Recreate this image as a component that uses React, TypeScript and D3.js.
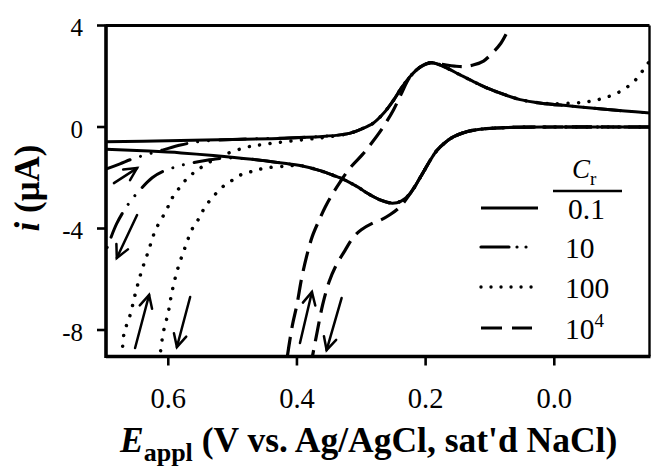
import React from 'react';
import * as d3 from 'd3';

type P = [number, number];

// Axis ticks
const xTicks: number[] = [0.6, 0.4, 0.2, 0.0];
const xTickLabels: string[] = ['0.6', '0.4', '0.2', '0.0'];
const yTicks: number[] = [4, 0, -4, -8];
const yTickLabels: string[] = ['4', '0', '-4', '-8'];

// Legend (C_r values)
const crLabels: string[] = ['0.1', '10', '100', '10'];
const crSuperscripts: string[] = ['', '', '', '4'];

// C_r = 0.1 (solid): upper branch (E from 0.70 to -0.15) and lower branch (E from -0.15 to 0.70)
const solidUpper: P[] = [
  [0.697, -0.58], [0.6, -0.54], [0.5, -0.49], [0.42, -0.44], [0.36, -0.37], [0.33, -0.3],
  [0.317, -0.24], [0.3, -0.08], [0.281, 0.16], [0.265, 0.55], [0.25, 1.05], [0.236, 1.6],
  [0.222, 2.05], [0.208, 2.37], [0.193, 2.53], [0.18, 2.47], [0.165, 2.3], [0.146, 2.05],
  [0.125, 1.78], [0.104, 1.53], [0.08, 1.3], [0.053, 1.08], [0.02, 0.94], [-0.025, 0.83],
  [-0.07, 0.72], [-0.11, 0.63], [-0.149, 0.55],
];
const solidLower: P[] = [
  [-0.149, 0.0], [0.0, 0.0], [0.06, -0.01], [0.09, -0.04], [0.115, -0.09], [0.135, -0.18],
  [0.157, -0.39], [0.17, -0.62], [0.182, -0.91], [0.193, -1.32], [0.208, -1.97], [0.224, -2.62],
  [0.238, -2.92], [0.252, -3.0], [0.27, -2.88], [0.28, -2.76], [0.291, -2.6], [0.305, -2.37],
  [0.317, -2.2], [0.333, -2.0], [0.344, -1.9], [0.364, -1.72], [0.395, -1.52], [0.42, -1.43],
  [0.47, -1.27], [0.53, -1.12], [0.58, -1.02], [0.63, -0.95], [0.697, -0.88],
];

// C_r = 10 (dash-dot-dot): parts that leave the 0.1 curve near 0.7 V
const c10UpperStart: P[] = [
  [0.697, -1.66], [0.675, -1.45], [0.656, -1.26], [0.633, -1.08], [0.609, -0.91],
  [0.581, -0.71], [0.55, -0.57],
];
const c10LowerEnd: P[] = [
  [0.51, -1.22], [0.538, -1.3], [0.578, -1.5], [0.609, -1.76], [0.625, -2.0],
  [0.643, -2.45], [0.661, -3.0], [0.68, -3.8], [0.697, -4.9],
];

// C_r = 100 (dotted)
const c100UpperStart: P[] = [
  [0.6715, -9.05], [0.669, -8.17], [0.659, -7.38], [0.651, -6.55], [0.642, -5.72],
  [0.631, -4.9], [0.62, -4.07], [0.603, -3.28], [0.594, -2.8], [0.583, -2.41],
  [0.57, -2.01], [0.555, -1.7], [0.53, -1.3], [0.507, -1.03], [0.477, -0.79],
  [0.459, -0.71], [0.426, -0.6], [0.39, -0.5], [0.36, -0.42], [0.33, -0.31],
];
const c100UpperEnd: P[] = [
  [0.0, 0.92], [-0.033, 0.95], [-0.051, 0.99], [-0.067, 1.07], [-0.082, 1.18],
  [-0.098, 1.34], [-0.1135, 1.58], [-0.129, 1.93], [-0.1415, 2.37], [-0.149, 2.62],
];
const c100LowerEnd: P[] = [
  [0.421, -1.55], [0.452, -1.63], [0.468, -1.74], [0.485, -1.86], [0.5, -2.09],
  [0.516, -2.37], [0.532, -2.8], [0.544, -3.2], [0.553, -3.63], [0.563, -4.03],
  [0.575, -4.82], [0.586, -5.65], [0.594, -6.47], [0.6, -7.3], [0.608, -8.13], [0.613, -9.05],
];

// C_r = 10^4 (long dash)
const c1e4Upper: P[] = [
  [0.415, -9.05], [0.407, -7.8], [0.4, -7.0], [0.393, -6.0], [0.385, -5.1], [0.376, -4.3],
  [0.366, -3.7], [0.356, -3.15], [0.345, -2.65], [0.333, -2.17], [0.317, -1.6], [0.298, -1.08],
  [0.283, -0.6], [0.266, 0.0], [0.25, 0.67], [0.238, 1.3], [0.225, 1.95], [0.208, 2.37],
  [0.193, 2.53], [0.175, 2.47], [0.155, 2.4], [0.141, 2.38], [0.125, 2.45], [0.11, 2.6],
  [0.095, 2.95], [0.083, 3.3], [0.073, 3.75], [0.064, 4.2],
];
const c1e4LowerEnd: P[] = [
  [0.24, -3.15], [0.255, -3.45], [0.27, -3.67], [0.283, -3.8], [0.3, -4.05], [0.312, -4.34],
  [0.325, -4.85], [0.34, -5.5], [0.35, -6.1], [0.36, -7.0], [0.368, -8.0], [0.376, -9.05],
];

// scan-direction arrows: [E1, i1, E2, i2] (tail -> tip)
const arrows: number[][] = [
  [0.6845, -2.21, 0.6485, -1.62],
  [0.6485, -3.47, 0.68, -5.16],
  [0.6516, -8.71, 0.6298, -6.62],
  [0.566, -6.7, 0.5866, -8.67],
  [0.3953, -8.51, 0.3767, -6.5],
  [0.3306, -6.74, 0.3539, -8.79],
];

const c10Upper: P[] = [...c10UpperStart, ...solidUpper.filter((p) => p[0] <= 0.5)];
const c10Lower: P[] = [...solidLower.filter((p) => p[0] <= 0.47), ...c10LowerEnd];
const c100Upper: P[] = [...c100UpperStart, ...solidUpper.filter((p) => p[0] <= 0.317 && p[0] > 0.0), ...c100UpperEnd];
const c100Lower: P[] = [...solidLower.filter((p) => p[0] <= 0.395), ...c100LowerEnd];
const c1e4Lower: P[] = [...solidLower.filter((p) => p[0] <= 0.224), ...c1e4LowerEnd];

const SERIF = "'Liberation Serif', 'Times New Roman', Times, serif";

export default function App() {
  const left = 106, right = 649.5, top = 25.5, bottom = 356.5;
  const x = d3.scaleLinear().domain([0.6968, -0.148]).range([left, right]);
  const y = d3.scaleLinear().domain([-9.044, 4]).range([bottom, top]);
  const line = d3.line<P>().x((d) => x(d[0])).y((d) => y(d[1])).curve(d3.curveCatmullRom.alpha(0.5));

  const styles = [
    { dash: undefined as string | undefined, w: 3, cap: 'butt' },
    { dash: '26 11 0.01 11 0.01 11', w: 3, cap: 'round' },
    { dash: '0.01 10.5', w: 3.5, cap: 'round' },
    { dash: '20 9', w: 3.2, cap: 'butt' },
  ];
  const curves: { d: P[]; s: number }[] = [
    { d: c1e4Upper, s: 3 }, { d: c1e4Lower, s: 3 },
    { d: c100Upper, s: 2 }, { d: c100Lower, s: 2 },
    { d: c10Upper, s: 1 }, { d: c10Lower, s: 1 },
    { d: solidUpper, s: 0 }, { d: solidLower, s: 0 },
  ];

  const arrowEls = arrows.map((a, k) => {
    const x1 = x(a[0]), y1 = y(a[1]), x2 = x(a[2]), y2 = y(a[3]);
    const ang = Math.atan2(y1 - y2, x1 - x2);
    const L = 14, th = (27 * Math.PI) / 180;
    const h1 = [x2 + L * Math.cos(ang + th), y2 + L * Math.sin(ang + th)];
    const h2 = [x2 + L * Math.cos(ang - th), y2 + L * Math.sin(ang - th)];
    return (
      <g key={k} stroke="#000" strokeWidth={2.5} fill="none" strokeLinecap="round">
        <line x1={x1} y1={y1} x2={x2} y2={y2} />
        <polyline points={`${h1[0]},${h1[1]} ${x2},${y2} ${h2[0]},${h2[1]}`} strokeLinejoin="miter" />
      </g>
    );
  });

  const legendY = [208, 247, 287, 328];
  const legendX0 = 481, legendX1 = [538, 528, 533, 532];
  const legendDash = [undefined, '28 8 0.01 9 0.01 9', '0.01 10', '21 10'];

  return (
    <svg width={651} height={467} style={{ position: 'absolute', left: 0, top: 0, background: '#fff' }}
      fontFamily={SERIF}>
      <rect x={0} y={0} width={651} height={467} fill="#fff" />
      <defs>
        <clipPath id="plotclip">
          <rect x={left} y={top} width={right - left} height={bottom - top} />
        </clipPath>
      </defs>
      <g clipPath="url(#plotclip)">
        {curves.map((c, k) => {
          const st = styles[c.s];
          return (
            <path key={k} d={line(c.d) || ''} fill="none" stroke="#000" strokeWidth={st.w}
              strokeDasharray={st.dash} strokeLinecap={st.cap as any} strokeLinejoin="round" />
          );
        })}
      </g>
      {arrowEls}
      {/* frame */}
      <line x1={left} y1={top} x2={right} y2={top} stroke="#000" strokeWidth={2.8} />
      <line x1={right} y1={top} x2={right} y2={bottom} stroke="#000" strokeWidth={2.4} />
      <line x1={left} y1={bottom} x2={right + 1} y2={bottom} stroke="#000" strokeWidth={3.4} />
      <line x1={left} y1={top - 1} x2={left} y2={bottom + 1.5} stroke="#000" strokeWidth={3.6} />
      {/* y ticks */}
      {yTicks.map((t, k) => (
        <g key={k}>
          <line x1={left - 9} x2={left} y1={y(t)} y2={y(t)} stroke="#000" strokeWidth={2.6} />
          <text x={83} y={y(t) + 10.5} textAnchor="end" fontSize={25}>{yTickLabels[k]}</text>
        </g>
      ))}
      {/* x ticks */}
      {xTicks.map((t, k) => (
        <g key={k}>
          <line x1={x(t)} x2={x(t)} y1={bottom} y2={bottom + 9} stroke="#000" strokeWidth={2.6} />
          <text x={x(t)} y={408} textAnchor="middle" fontSize={28.5}>{xTickLabels[k]}</text>
        </g>
      ))}
      {/* axis titles */}
      <text x={120} y={452} fontSize={35.5} fontWeight="bold">
        <tspan fontStyle="italic">E</tspan>
        <tspan fontSize={26} dy={9}>appl</tspan>
        <tspan dy={-9}> (V vs. Ag/AgCl, sat'd NaCl)</tspan>
      </text>
      <text transform="translate(39,188) rotate(-90)" textAnchor="middle" fontSize={35} fontWeight="bold">
        <tspan fontStyle="italic">i</tspan> (μA)
      </text>
      {/* legend */}
      <text x={572} y={178} fontSize={27} fontStyle="italic">C<tspan fontStyle="normal" fontSize={19} dy={7}>r</tspan></text>
      <line x1={553} x2={622} y1={191} y2={191} stroke="#000" strokeWidth={2.4} />
      {crLabels.map((lab, k) => (
        <g key={k}>
          <line x1={legendX0} x2={legendX1[k]} y1={legendY[k]} y2={legendY[k]} stroke="#000"
            strokeWidth={k === 2 ? 3.4 : 3.2} strokeDasharray={legendDash[k]}
            strokeLinecap={k === 1 || k === 2 ? 'round' : 'butt'} />
          <text x={k === 0 ? 568 : 565} y={legendY[k] + 11} fontSize={29.5}>
            {lab}
            {crSuperscripts[k] ? <tspan fontSize={19} dy={-12}>{crSuperscripts[k]}</tspan> : null}
          </text>
        </g>
      ))}
    </svg>
  );
}
